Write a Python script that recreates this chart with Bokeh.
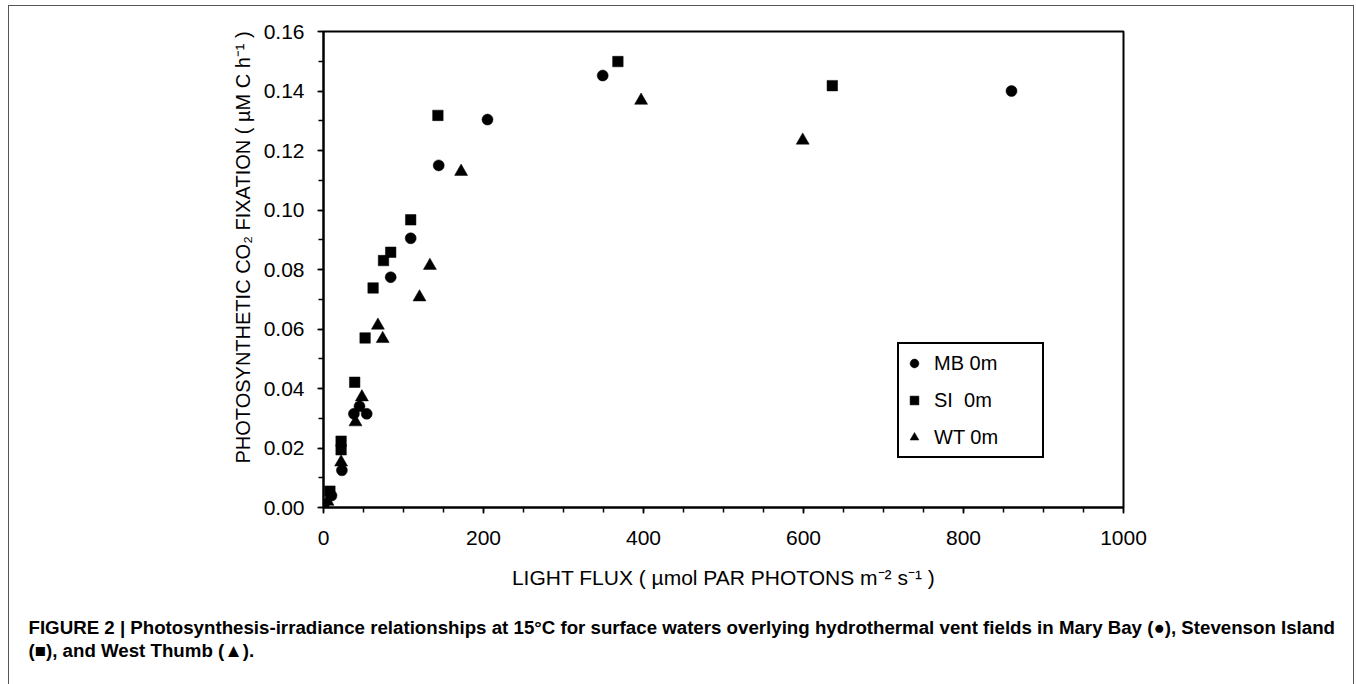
from bokeh.plotting import figure
from bokeh.models import (Range1d, SingleIntervalTicker, PrintfTickFormatter,
                          Legend, LegendItem, ColumnDataSource, Title)
from bokeh.embed import file_html
from bokeh.resources import INLINE

# ---- data ----
mb_x = [0, 10, 23, 38, 45, 54, 84, 109, 144, 205, 349, 860]
mb_y = [0, 0.004, 0.0125, 0.0315, 0.034, 0.0315, 0.0774, 0.0905, 0.115, 0.1304, 0.1452, 0.140]

si_x = [0, 8, 22, 22, 39, 52, 62, 75, 84, 109, 143, 368, 636]
si_y = [0, 0.0055, 0.0194, 0.0223, 0.0421, 0.057, 0.0738, 0.0830, 0.0858, 0.0967, 0.1318, 0.1499, 0.1418]

wt_x = [0, 5, 22, 40, 48, 68, 74, 120, 133, 172, 397, 599]
wt_y = [0, 0.002, 0.0152, 0.0287, 0.0371, 0.0612, 0.0567, 0.0707, 0.0813, 0.1129, 0.1368, 0.1234]

series_labels = ["MB 0m", "SI  0m", "WT 0m"]

x_label = "LIGHT FLUX ( µmol PAR PHOTONS m\u207b\u00b2 s\u207b\u00b9 )"
y_label = "PHOTOSYNTHETIC CO\u2082 FIXATION ( µM C h\u207b\u00b9 )"
caption_1 = ("FIGURE 2 | Photosynthesis-irradiance relationships at 15\u00b0C for surface waters "
             "overlying hydrothermal vent fields in Mary Bay (\u25cf), Stevenson Island")
caption_2 = "(\u25a0), and West Thumb (\u25b2)."

FONT = "Liberation Sans"

p = figure(width=1346, height=679, output_backend="svg", toolbar_location=None,
           x_range=Range1d(0, 1000), y_range=Range1d(0, 0.16),
           min_border_left=314, min_border_right=232, min_border_top=25, min_border_bottom=178)
p.styles = {"border-top": "1px solid #555555", "border-left": "1px solid #555555",
            "border-right": "1px solid #555555", "margin-left": "8px", "margin-top": "5px"}

p.grid.visible = False
p.outline_line_color = "black"
p.outline_line_width = 2
p.outline_line_alpha = 1

p.xaxis.ticker = SingleIntervalTicker(interval=200, num_minor_ticks=4)
p.yaxis.ticker = SingleIntervalTicker(interval=0.02, num_minor_ticks=2)
p.yaxis.formatter = PrintfTickFormatter(format="%.2f")

for ax in (p.xaxis[0], p.yaxis[0]):
    ax.axis_line_width = 2
    ax.axis_line_color = "black"
    ax.major_tick_in = 0
    ax.major_tick_out = 6
    ax.minor_tick_in = 0
    ax.minor_tick_out = 5
    ax.major_tick_line_width = 1.5
    ax.minor_tick_line_width = 1.5
    ax.major_label_text_font = FONT
    ax.major_label_text_font_size = "21px"
    ax.major_label_text_color = "black"

p.yaxis.major_label_standoff = 13
p.xaxis.major_label_standoff = 17
p.xaxis.axis_label = x_label
p.xaxis.axis_label_text_font = FONT
p.xaxis.axis_label_text_font_size = "21px"
p.xaxis.axis_label_text_font_style = "normal"
p.xaxis.axis_label_text_color = "black"
p.xaxis.axis_label_standoff = 18

src_mb = ColumnDataSource(dict(x=mb_x, y=mb_y))
src_si = ColumnDataSource(dict(x=si_x, y=si_y))
src_wt = ColumnDataSource(dict(x=wt_x, y=wt_y))

r_mb = p.scatter("x", "y", source=src_mb, marker="circle", size=11,
                 fill_color="black", line_color="black", line_width=0.5)
r_si = p.scatter("x", "y", source=src_si, marker="square", size=10.5,
                 fill_color="black", line_color="black", line_width=0.5)
r_wt = p.scatter("x", "y", source=src_wt, marker="triangle", size=13,
                 fill_color="black", line_color="black", line_width=0.5)

legend = Legend(items=[LegendItem(label=series_labels[0], renderers=[r_mb]),
                       LegendItem(label=series_labels[1], renderers=[r_si]),
                       LegendItem(label=series_labels[2], renderers=[r_wt])],
                location=(574, 49), margin=0, padding=4, spacing=7,
                glyph_width=22, glyph_height=30, label_standoff=9, label_width=104,
                label_text_font=FONT, label_text_font_size="20px", label_text_color="black",
                border_line_color="black", border_line_width=2, border_line_alpha=1,
                background_fill_color="white", background_fill_alpha=1)
p.add_layout(legend, "center")

# rotated y-axis title
p.add_layout(Title(text=y_label, align="left", offset=44, standoff=14,
                   text_font=FONT, text_font_size="20px", text_font_style="normal",
                   text_color="black"), "left")

# caption (two lines)
p.add_layout(Title(text=caption_1 + "\n" + caption_2, align="left", offset=-295, standoff=48,
                   text_font=FONT, text_font_size="18.7px", text_font_style="bold",
                   text_color="black", text_line_height=1.1), "below")

open("out.html", "w").write(file_html(p, INLINE))
